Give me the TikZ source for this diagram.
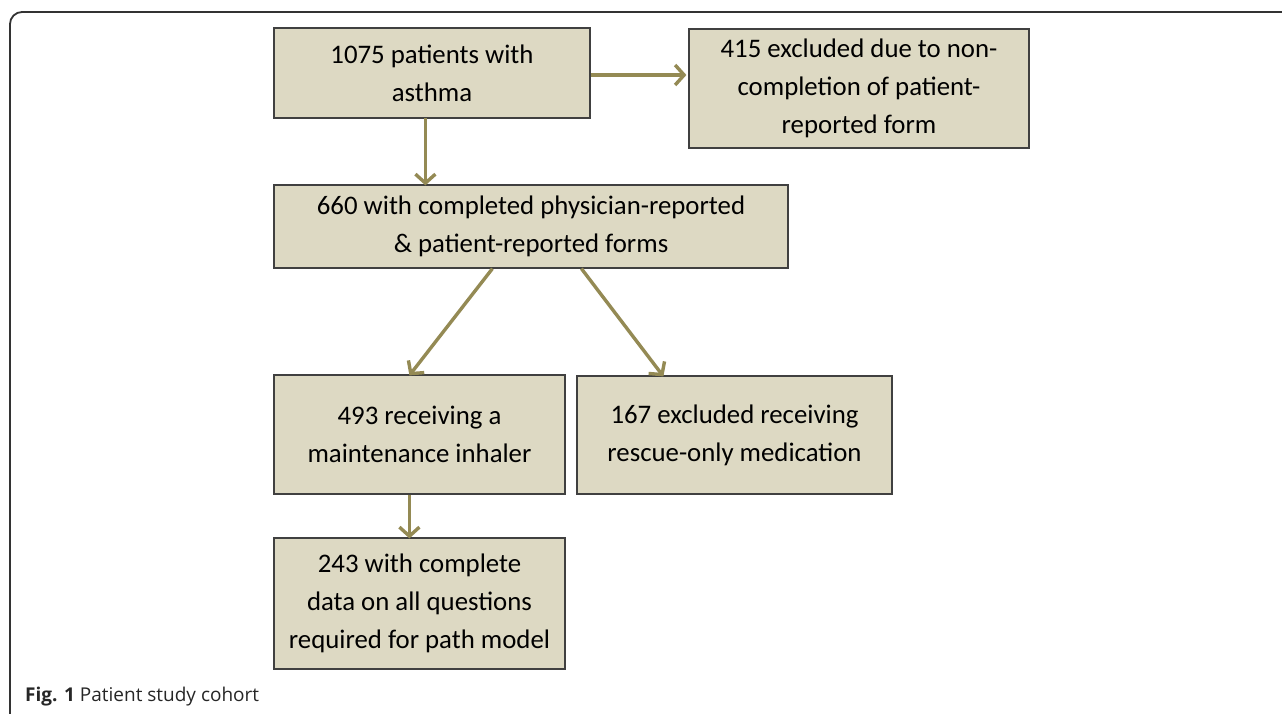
\documentclass[tikz,border=0pt]{standalone}
\usepackage{fontspec}
\setmainfont{Carlito}
\newfontfamily\capfont{Open Sans}
\usetikzlibrary{arrows.meta}
\definecolor{boxfill}{HTML}{DDD9C3}
\definecolor{arrowcol}{HTML}{948A54}
\definecolor{edgecol}{HTML}{404040}
\tikzset{
  box/.style={draw=edgecol, line width=1.2pt, fill=boxfill, align=center, inner sep=0pt,
    font=\fontsize{26.8}{38}\selectfont, text=black},
  flow/.style={draw=arrowcol, line width=3.4pt, -{Straight Barb[length=9pt,width=20pt,line width=3.4pt]}}
}
\begin{document}
\begin{tikzpicture}[x=1pt,y=-1pt]
\useasboundingbox (0,0) rectangle (1282,713);
% frame
\draw[line width=1.8pt, draw=black!80, rounded corners=12pt] (10,720) -- (10,12) -- (1290,12);
% boxes
\node[box, minimum width=316pt, minimum height=90pt] (A) at (432,73) {1075 patients with\\asthma};
\node[box, minimum width=340pt, minimum height=119pt] (B) at (859,88.5) {415 excluded due to non-\\completion of patient-\\reported form};
\node[box, minimum width=514pt, minimum height=83pt] (C) at (531,226.5) {660 with completed physician-reported\\\& patient-reported forms};
\node[box, minimum width=291pt, minimum height=119pt] (D) at (419.5,434.5) {493 receiving a\\maintenance inhaler};
\node[box, minimum width=315pt, minimum height=118pt] (E) at (734.5,435) {167 excluded receiving\\rescue-only medication};
\node[box, minimum width=291pt, minimum height=131pt] (F) at (419.5,603.5) {243 with complete\\data on all questions\\required for path model};
% arrows
\draw[flow] ([yshift=-2pt]A.east) -- ([xshift=-2pt,yshift=-2pt]B.west |- A.east);
\draw[flow] ([xshift=152pt,yshift=1pt]A.south west) -- ([xshift=152pt,yshift=-1pt]A.south west |- C.north);
\draw[flow] ([xshift=219pt]C.south west) -- ([xshift=136pt,yshift=-1pt]D.north west);
\draw[flow] ([xshift=308pt]C.south west) -- ([xshift=87pt,yshift=-1pt]E.north west);
\draw[flow] ([xshift=136pt]D.south west) -- ([xshift=136pt,yshift=-1pt]F.north west);
% caption
\node[anchor=base west, inner sep=0pt, font=\capfont\fontsize{19}{22}\selectfont, text=black!85] (cap) at (25,701) {\textbf{Fig. 1} Patient study cohort};
\end{tikzpicture}
\end{document}
